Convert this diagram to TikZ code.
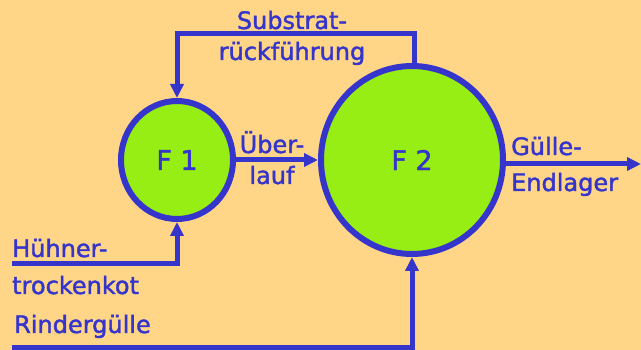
\documentclass[tikz,border=0pt]{standalone}
\usepackage{fontspec}
\setmainfont{DejaVu Sans}
\newfontfamily\diagfont{DejaVu Sans}[BoldFeatures={FakeBold=1.6}, BoldFont=DejaVu Sans]
\usetikzlibrary{arrows.meta,shapes.geometric}
\definecolor{bgorange}{HTML}{FFD588}
\definecolor{tankgreen}{HTML}{96EE14}
\definecolor{flowblue}{HTML}{3535CC}
\tikzset{
  tank/.style={ellipse, draw=flowblue, line width=6pt, fill=tankgreen, inner sep=0pt,
    text=flowblue, font={\diagfont\bfseries\fontsize{27}{30}\selectfont}},
  flow/.style={draw=flowblue, line width=5pt, -{Triangle[length=14pt,width=13pt]}},
  lbl/.style={text=flowblue, font={\diagfont\bfseries\fontsize{24}{28}\selectfont}, inner sep=0pt},
}
\begin{document}
\begin{tikzpicture}[x=1pt,y=-1pt]
  \fill[bgorange] (0,0) rectangle (641,350);
  \useasboundingbox (0,0) rectangle (641,350);

  % fermenters
  \node[tank, minimum width=112pt, minimum height=118pt] (F1) at (177,160) {F 1};
  \node[tank, minimum width=182pt, minimum height=188pt] (F2) at (412,160) {F 2};

  % free ends of the feed and discharge lines
  \coordinate (loopR) at (414,34);
  \coordinate (loopL) at (177,34);
  \coordinate (hs) at (12,264);
  \coordinate (rs) at (12,348);
  \coordinate (out) at (641,164);

  % substrate return from F2 to F1
  \draw[flow] (loopR |- F2.north) -- (loopR) -- (loopL) -- (F1.north);
  % overflow F1 -> F2
  \draw[flow] (F1.east) -- (F2.west);
  % discharge to final storage
  \draw[flow] (F2.east |- out) -- (out);
  % feeds
  \draw[flow] (hs) -| (F1.south);
  \draw[flow] (rs) -| (F2.south);

  % labels
  \node[lbl, anchor=base] (sub1) at (292,29) {Substrat-};
  \node[lbl, anchor=base] (sub2) at (292,60) {rückführung};
  \node[lbl, anchor=base] (ueb1) at (272,153) {Über-};
  \node[lbl, anchor=base] (ueb2) at (272,184) {lauf};
  \node[lbl, anchor=base west] (gue1) at (511,155) {Gülle-};
  \node[lbl, anchor=base west] (gue2) at (511,191) {Endlager};
  \node[lbl, anchor=base west] (hue1) at (12,257) {Hühner-};
  \node[lbl, anchor=base west] (hue2) at (12,294) {trockenkot};
  \node[lbl, anchor=base west] (rin) at (14,333) {Rindergülle};
\end{tikzpicture}
\end{document}
